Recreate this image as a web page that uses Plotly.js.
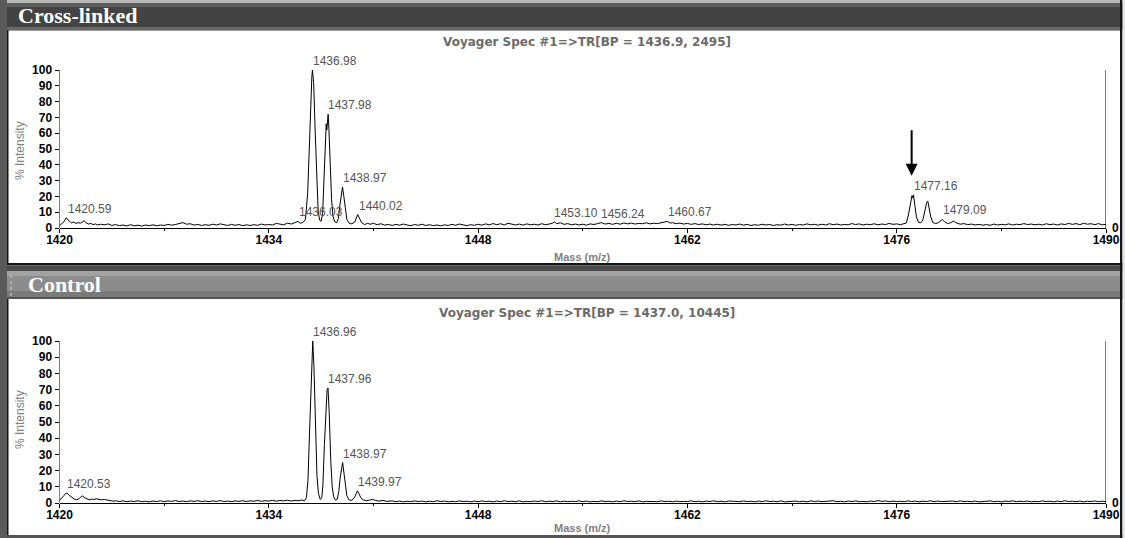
<!DOCTYPE html>
<html>
<head>
<meta charset="utf-8">
<script src="https://cdn.plot.ly/plotly-3.0.1.min.js"></script>
<style>html,body{margin:0;padding:0;background:#fff;}#chart{width:1125px;height:538px;}</style>
</head>
<body>
<div id="chart"></div>
<script>
// ---------- DATA ----------
const panelNames = ["Cross-linked", "Control"];
const panelTitles = ["Voyager Spec #1=>TR[BP = 1436.9, 2495]", "Voyager Spec #1=>TR[BP = 1437.0, 10445]"];
const massTicks = [1420, 1434, 1448, 1462, 1476, 1490];
const intensityTicks = [0, 10, 20, 30, 40, 50, 60, 70, 80, 90, 100];

// Cross-linked spectrum: [m/z, % intensity]
const crossLinkedSpectrum = [
[1420.00,1.4],[1420.15,2.8],[1420.30,4.0],[1420.45,6.5],[1420.55,5.0],[1420.65,4.3],[1420.80,3.2],[1420.95,3.8],[1421.10,2.9],[1421.25,3.4],
[1421.40,3.0],[1421.55,4.3],[1421.65,4.6],[1421.80,3.1],[1421.95,2.5],[1422.10,2.9],[1422.25,2.1],[1422.40,2.6],[1422.55,1.9],[1422.75,2.4],
[1423.00,2.0],[1423.25,2.6],[1423.50,1.6],[1423.75,2.2],[1424.00,1.5],[1424.25,1.9],[1424.50,1.3],[1424.75,2.1],[1425.00,1.4],[1425.25,1.8],
[1425.50,1.2],[1425.75,1.9],[1426.00,1.5],[1426.25,2.0],[1426.50,1.4],[1426.75,1.9],[1427.00,1.6],[1427.25,2.3],[1427.50,1.8],[1427.75,2.2],
[1428.00,2.6],[1428.25,3.4],[1428.50,2.4],[1428.75,2.7],[1429.00,1.8],[1429.25,2.3],[1429.50,1.6],[1429.75,2.1],[1430.00,1.7],[1430.25,2.4],
[1430.50,1.9],[1430.75,2.6],[1431.00,2.1],[1431.25,1.6],[1431.50,2.3],[1431.75,1.7],[1432.00,2.2],[1432.25,1.5],[1432.50,2.0],[1432.75,1.6],
[1433.00,2.1],[1433.25,1.7],[1433.50,2.5],[1433.75,1.9],[1434.00,2.2],[1434.25,1.9],[1434.50,2.9],[1434.75,2.3],[1435.00,2.0],[1435.25,3.1],
[1435.50,2.5],[1435.75,3.4],[1435.95,4.2],[1436.10,3.0],[1436.30,3.6],[1436.45,5.5],[1436.60,22],[1436.70,48],[1436.80,80],[1436.88,96],
[1436.92,100],[1437.00,92],[1437.10,62],[1437.20,30],[1437.30,11],[1437.40,5],[1437.50,4.2],[1437.60,9],[1437.68,32],[1437.76,55],
[1437.84,66],[1437.88,62],[1437.91,68],[1437.94,64],[1437.97,72],[1438.02,63],[1438.10,42],[1438.20,18],[1438.30,7],[1438.42,3.8],
[1438.55,3.4],[1438.65,6],[1438.75,14],[1438.85,22],[1438.93,26],[1439.02,20],[1439.12,11],[1439.22,5.5],[1439.38,3.0],[1439.55,2.6],
[1439.75,3.8],[1439.88,7.0],[1439.95,8.5],[1440.05,6.5],[1440.20,3.5],[1440.40,2.2],[1440.60,2.9],[1440.80,2.4],[1441.00,3.0],[1441.25,2.1],
[1441.50,2.7],[1441.75,1.8],[1442.00,2.3],[1442.25,1.6],[1442.50,2.3],[1442.75,1.8],[1443.00,2.5],[1443.25,1.9],[1443.50,1.5],[1443.75,2.2],
[1444.00,1.7],[1444.25,2.4],[1444.50,1.6],[1444.75,2.1],[1445.00,1.5],[1445.25,1.9],[1445.50,1.4],[1445.75,2.0],[1446.00,1.6],[1446.25,2.3],
[1446.50,1.7],[1446.75,2.5],[1447.00,1.9],[1447.25,1.5],[1447.50,2.1],[1447.75,1.7],[1448.00,2.4],[1448.25,1.8],[1448.50,2.6],[1448.75,2.0],
[1449.00,2.8],[1449.25,2.1],[1449.50,2.7],[1449.75,1.9],[1450.00,3.0],[1450.25,2.2],[1450.50,1.9],[1450.75,2.5],[1451.00,1.8],[1451.25,2.6],
[1451.50,2.0],[1451.75,2.4],[1452.00,1.9],[1452.25,2.7],[1452.50,2.1],[1452.75,2.5],[1453.00,3.1],[1453.10,3.9],[1453.25,2.7],[1453.50,3.3],
[1453.75,2.3],[1454.00,2.8],[1454.25,2.0],[1454.50,2.5],[1454.75,1.9],[1455.00,2.4],[1455.25,1.8],[1455.50,2.6],[1455.75,2.2],[1456.00,2.8],
[1456.24,3.4],[1456.50,2.5],[1456.75,2.9],[1457.00,2.3],[1457.25,3.0],[1457.50,2.4],[1457.75,3.2],[1458.00,2.6],[1458.25,3.1],[1458.50,2.5],
[1458.75,2.9],[1459.00,2.7],[1459.25,3.3],[1459.50,2.6],[1459.75,3.0],[1460.00,2.8],[1460.25,3.2],[1460.50,3.5],[1460.67,4.2],[1460.85,3.1],
[1461.00,3.4],[1461.25,2.7],[1461.50,3.1],[1461.75,2.5],[1462.00,2.9],[1462.25,2.3],[1462.50,2.8],[1462.75,2.2],[1463.00,2.6],[1463.25,2.0],
[1463.50,2.5],[1463.75,1.9],[1464.00,2.4],[1464.25,1.8],[1464.50,2.3],[1464.75,1.7],[1465.00,2.2],[1465.25,1.9],[1465.50,2.5],[1465.75,1.8],
[1466.00,2.3],[1466.25,1.6],[1466.50,2.1],[1466.75,1.7],[1467.00,2.4],[1467.25,1.9],[1467.50,2.2],[1467.75,1.6],[1468.00,2.1],[1468.25,1.8],
[1468.50,2.5],[1468.75,1.9],[1469.00,2.3],[1469.25,1.7],[1469.50,2.2],[1469.75,1.9],[1470.00,2.6],[1470.25,2.0],[1470.50,2.3],[1470.75,1.8],
[1471.00,2.4],[1471.25,1.9],[1471.50,2.7],[1471.75,2.1],[1472.00,2.5],[1472.25,1.9],[1472.50,2.3],[1472.75,2.0],[1473.00,2.8],[1473.25,2.2],
[1473.50,2.6],[1473.75,1.9],[1474.00,2.4],[1474.25,2.1],[1474.50,2.7],[1474.75,2.0],[1475.00,2.5],[1475.25,2.2],[1475.50,2.9],[1475.75,2.3],
[1476.00,2.6],[1476.25,2.1],[1476.50,2.5],[1476.65,3.2],[1476.80,9],[1476.92,17],[1477.02,20.5],[1477.08,19],[1477.12,21],[1477.22,14],
[1477.32,7],[1477.45,3.6],[1477.60,3.2],[1477.75,5],[1477.88,11],[1478.00,16],[1478.08,17],[1478.18,13],[1478.28,7],[1478.42,3.5],
[1478.60,2.8],[1478.80,3.4],[1478.95,4.8],[1479.05,5.4],[1479.20,4.0],[1479.40,2.8],[1479.60,3.3],[1479.80,4.4],[1479.95,3.4],[1480.10,2.9],
[1480.25,2.4],[1480.50,2.8],[1480.75,2.1],[1481.00,2.5],[1481.25,1.9],[1481.50,2.3],[1481.75,1.8],[1482.00,2.2],[1482.25,1.7],[1482.50,2.5],
[1482.75,1.9],[1483.00,2.3],[1483.25,2.0],[1483.50,2.6],[1483.75,1.9],[1484.00,2.4],[1484.25,2.1],[1484.50,2.8],[1484.75,2.2],[1485.00,2.5],
[1485.25,2.0],[1485.50,2.4],[1485.75,1.9],[1486.00,2.7],[1486.25,2.1],[1486.50,2.5],[1486.75,1.9],[1487.00,2.6],[1487.25,2.2],[1487.50,2.9],
[1487.75,2.3],[1488.00,2.8],[1488.25,2.1],[1488.50,3.0],[1488.75,2.4],[1489.00,2.7],[1489.25,2.1],[1489.50,2.8],[1489.75,2.0],[1490.00,2.3]
];

// Control spectrum: [m/z, % intensity]
const controlSpectrum = [
[1420.00,1.6],[1420.15,2.8],[1420.30,4.6],[1420.45,6.2],[1420.55,5.8],[1420.70,4.4],[1420.85,3.2],[1421.00,2.4],[1421.15,2.0],[1421.30,2.6],
[1421.45,4.0],[1421.55,4.3],[1421.70,3.1],[1421.85,2.3],[1422.00,2.0],[1422.15,2.4],[1422.30,2.2],[1422.45,2.6],[1422.60,2.3],[1422.80,2.0],
[1423.00,2.2],[1423.20,1.7],[1423.40,1.3],[1423.60,1.1],[1423.80,1.4],[1424.00,0.9],[1424.25,1.3],[1424.50,0.8],[1424.75,1.2],[1425.00,0.9],
[1425.25,1.4],[1425.50,0.8],[1425.75,1.1],[1426.00,0.7],[1426.25,1.2],[1426.50,0.9],[1426.75,1.4],[1427.00,0.8],[1427.25,1.3],[1427.50,1.0],
[1427.75,1.5],[1428.00,0.9],[1428.25,1.2],[1428.50,0.8],[1428.75,1.3],[1429.00,1.0],[1429.25,1.4],[1429.50,0.9],[1429.75,1.2],[1430.00,0.8],
[1430.25,1.3],[1430.50,1.0],[1430.75,1.5],[1431.00,0.9],[1431.25,1.2],[1431.50,0.8],[1431.75,1.3],[1432.00,1.0],[1432.25,1.4],[1432.50,0.9],
[1432.75,1.3],[1433.00,1.1],[1433.25,1.6],[1433.50,1.0],[1433.75,1.4],[1434.00,1.2],[1434.25,1.6],[1434.50,1.1],[1434.75,1.5],[1435.00,1.3],
[1435.25,1.7],[1435.50,1.2],[1435.75,1.6],[1436.00,1.4],[1436.20,1.8],[1436.40,1.5],[1436.52,3.5],[1436.62,14],[1436.72,42],[1436.82,76],
[1436.90,96],[1436.94,100],[1437.02,84],[1437.12,46],[1437.22,17],[1437.32,6],[1437.44,2.2],[1437.54,3],[1437.62,11],[1437.72,36],
[1437.82,60],[1437.90,70],[1437.96,71],[1438.04,56],[1438.14,27],[1438.24,10],[1438.34,3.8],[1438.46,1.8],[1438.58,2.4],[1438.68,7],
[1438.78,16],[1438.88,24],[1438.94,25],[1439.02,19],[1439.12,10],[1439.22,4.5],[1439.36,2.0],[1439.55,1.6],[1439.72,3.2],[1439.85,6.0],
[1439.93,7.5],[1440.03,5.8],[1440.16,3.2],[1440.32,1.9],[1440.55,1.4],[1440.75,1.8],[1440.95,2.3],[1441.15,1.5],[1441.40,1.2],[1441.65,1.6],
[1441.90,1.0],[1442.25,1.3],[1442.50,0.8],[1442.75,1.2],[1443.00,0.7],[1443.25,1.1],[1443.50,0.8],[1443.75,1.3],[1444.00,0.9],[1444.25,1.2],
[1444.50,0.7],[1444.75,1.1],[1445.00,0.8],[1445.25,1.4],[1445.50,0.9],[1445.75,1.2],[1446.00,0.7],[1446.25,1.0],[1446.50,0.8],[1446.75,1.3],
[1447.00,0.9],[1447.25,1.1],[1447.50,0.7],[1447.75,1.2],[1448.00,0.8],[1448.25,1.3],[1448.50,0.9],[1448.75,1.1],[1449.00,0.7],[1449.25,1.2],
[1449.50,0.8],[1449.75,1.4],[1450.00,0.9],[1450.25,1.1],[1450.50,0.8],[1450.75,1.3],[1451.00,0.7],[1451.25,1.0],[1451.50,0.8],[1451.75,1.2],
[1452.00,0.9],[1452.25,1.4],[1452.50,0.8],[1452.75,1.1],[1453.00,0.9],[1453.25,1.3],[1453.50,0.7],[1453.75,1.2],[1454.00,0.8],[1454.25,1.1],
[1454.50,0.9],[1454.75,1.3],[1455.00,0.8],[1455.25,1.2],[1455.50,0.7],[1455.75,1.0],[1456.00,0.8],[1456.25,1.3],[1456.50,0.9],[1456.75,1.1],
[1457.00,0.7],[1457.25,1.2],[1457.50,0.8],[1457.75,1.4],[1458.00,0.9],[1458.25,1.1],[1458.50,0.8],[1458.75,1.3],[1459.00,0.7],[1459.25,1.0],
[1459.50,0.9],[1459.75,1.2],[1460.00,0.8],[1460.25,1.3],[1460.50,0.9],[1460.75,1.1],[1461.00,0.7],[1461.25,1.2],[1461.50,0.8],[1461.75,1.0],
[1462.00,0.9],[1462.25,1.3],[1462.50,0.8],[1462.75,1.1],[1463.00,0.7],[1463.25,1.2],[1463.50,0.9],[1463.75,1.4],[1464.00,0.8],[1464.25,1.1],
[1464.50,0.7],[1464.75,1.2],[1465.00,0.9],[1465.25,1.0],[1465.50,0.8],[1465.75,1.3],[1466.00,0.9],[1466.25,1.1],[1466.50,0.7],[1466.75,1.2],
[1467.00,0.8],[1467.25,1.4],[1467.50,0.9],[1467.75,1.1],[1468.00,0.8],[1468.25,1.3],[1468.50,0.7],[1468.75,1.0],[1469.00,0.9],[1469.25,1.2],
[1469.50,0.8],[1469.75,1.1],[1470.00,0.7],[1470.25,1.3],[1470.50,0.9],[1470.75,1.2],[1471.00,0.8],[1471.25,1.0],[1471.50,0.9],[1471.75,1.4],
[1472.00,0.8],[1472.25,1.1],[1472.50,0.7],[1472.75,1.2],[1473.00,0.9],[1473.25,1.3],[1473.50,0.8],[1473.75,1.0],[1474.00,0.7],[1474.25,1.2],
[1474.50,0.9],[1474.75,1.5],[1475.00,1.0],[1475.25,1.3],[1475.50,0.8],[1475.75,1.2],[1476.00,0.9],[1476.25,1.1],[1476.50,0.8],[1476.75,1.3],
[1477.00,0.9],[1477.25,1.2],[1477.50,0.7],[1477.75,1.1],[1478.00,0.9],[1478.25,1.4],[1478.50,0.8],[1478.75,1.2],[1479.00,0.9],[1479.25,1.0],
[1479.50,0.7],[1479.75,1.2],[1480.00,0.8],[1480.25,1.3],[1480.50,0.9],[1480.75,1.1],[1481.00,0.8],[1481.25,1.2],[1481.50,0.7],[1481.75,1.0],
[1482.00,0.9],[1482.25,1.3],[1482.50,0.8],[1482.75,1.1],[1483.00,0.7],[1483.25,1.2],[1483.50,0.9],[1483.75,1.4],[1484.00,0.8],[1484.25,1.1],
[1484.50,0.9],[1484.75,1.2],[1485.00,0.7],[1485.25,1.0],[1485.50,0.8],[1485.75,1.3],[1486.00,0.9],[1486.25,1.1],[1486.50,0.7],[1486.75,1.2],
[1487.00,0.8],[1487.25,1.4],[1487.50,0.9],[1487.75,1.1],[1488.00,0.8],[1488.25,1.2],[1488.50,0.7],[1488.75,1.1],[1489.00,0.9],[1489.25,1.3],
[1489.50,0.8],[1489.75,1.1],[1490.00,0.9]
];

// Peak labels
const crossLinkedLabelMass = [1420.59, 1436.03, 1436.98, 1437.98, 1438.97, 1440.02, 1453.10, 1456.24, 1460.67, 1477.16, 1479.09];
const crossLinkedLabelHeight = [6.5, 4.2, 100, 72, 26, 8.5, 3.9, 3.4, 4.2, 21, 5.4];
const controlLabelMass = [1420.53, 1436.96, 1437.96, 1438.97, 1439.97];
const controlLabelHeight = [6.2, 100, 71, 25, 7.5];

// Arrow marking the cross-linked product peak
const arrowMass = 1477.0;
const arrowTipIntensity = 33;

// ---------- LAYOUT ----------
const W = 1125, H = 538;
const px = v => v / W;
const py = v => 1 - v / H;
const FONT = "Liberation Sans, Arial, sans-serif";
const WIDE = "DejaVu Sans, Verdana, sans-serif";
const SERIF = "Liberation Serif, Times New Roman, serif";

// pixel geometry of the two plot areas
const plotX0 = 59.5, plotX1 = 1106;
const panels = [
  {zero: 228, hundred: 70, titleY: 42, massY: 257, intY: 151},
  {zero: 503, hundred: 341, titleY: 313, massY: 528, intY: 420}
];
const yTop = 104;
function yDomain(p) {
  const per = (p.zero - p.hundred) / 100;
  const topPx = p.zero - per * yTop;
  return [py(p.zero), py(topPx)];
}

const shapes = [];
function rect(x0, y0, x1, y1, color) {
  shapes.push({type: 'rect', xref: 'paper', yref: 'paper', x0: px(x0), x1: px(x1), y0: py(y1), y1: py(y0),
    fillcolor: color, line: {width: 0}, layer: 'below'});
}
// top header
rect(0, 0, 1125, 3, '#b8b8b8');
rect(0, 3, 1125, 7, '#5c5c5c');
rect(0, 7, 1125, 27, '#434343');
rect(0, 27, 1125, 30, '#6a6a6a');
rect(8, 30, 1120, 31, '#999999');
// bottom border of top box and separator
rect(0, 263, 1125, 265.5, '#151515');
rect(0, 265.5, 1125, 271, '#4a4a4a');
// control header
rect(0, 271, 1125, 276, '#a2a2a2');
rect(0, 276, 1125, 291, '#8c8c8c');
rect(0, 291, 1125, 297, '#7a7a7a');
rect(0, 297, 1125, 299, '#555555');
// bottom edge
rect(0, 535, 1125, 538, '#555555');
// left strip
rect(0, 0, 7, 538, '#5a5a5a');
rect(7, 30, 8.5, 263, '#151515');
rect(7, 299, 8.5, 535, '#151515');
// right border
rect(1120, 0, 1122.5, 538, '#151515');
rect(1122.5, 0, 1125, 538, '#e6e6e6');
// dotted line in control header
shapes.push({type: 'line', xref: 'paper', yref: 'paper', x0: px(11), x1: px(11), y0: py(296), y1: py(273),
  line: {color: '#d0d0d0', width: 1, dash: 'dot'}, layer: 'below'});

const annotations = [];
const traces = [];
const spectra = [crossLinkedSpectrum, controlSpectrum];
const labelMasses = [crossLinkedLabelMass, controlLabelMass];
const labelHeights = [crossLinkedLabelHeight, controlLabelHeight];
const headerPos = [{x: 16, y: 15}, {x: 26, y: 284}];

const layout = {
  width: W, height: H,
  margin: {l: 0, r: 0, t: 0, b: 0},
  paper_bgcolor: '#ffffff',
  plot_bgcolor: 'rgba(0,0,0,0)',
  showlegend: false,
  font: {family: FONT},
  shapes: shapes,
  annotations: annotations
};

panels.forEach((p, i) => {
  const xa = i === 0 ? 'x' : 'x2';
  const ya = i === 0 ? 'y' : 'y2';
  const xKey = i === 0 ? 'xaxis' : 'xaxis2';
  const yKey = i === 0 ? 'yaxis' : 'yaxis2';
  layout[xKey] = {
    domain: [px(plotX0), px(plotX1)], range: [massTicks[0], massTicks[massTicks.length - 1]],
    anchor: ya, tickmode: 'array', tickvals: massTicks, ticktext: massTicks.map(String),
    ticks: 'outside', ticklen: 4, tickwidth: 1, tickcolor: '#000', ticklabelstandoff: -3,
    showline: true, linecolor: '#000', linewidth: 1, showgrid: false, zeroline: false,
    tickfont: {family: FONT, size: 12, color: '#000', weight: 'bold'},
    minor: {tickvals: [1427, 1441, 1455, 1469, 1483], ticks: 'outside', ticklen: 2, tickcolor: '#000', showgrid: false},
    fixedrange: true
  };
  layout[yKey] = {
    domain: yDomain(p), range: [0, yTop], anchor: xa,
    tickmode: 'array', tickvals: intensityTicks, ticktext: intensityTicks.map(String),
    ticks: 'outside', ticklen: 4, tickwidth: 1, tickcolor: '#000',
    showline: false, showgrid: false, zeroline: false,
    tickfont: {family: FONT, size: 12, color: '#000', weight: 'bold'},
    fixedrange: true
  };

  const sp = spectra[i];
  traces.push({
    type: 'scatter', mode: 'lines', xaxis: xa, yaxis: ya,
    x: sp.map(d => d[0]), y: sp.map(d => d[1]),
    line: {color: '#000', width: 1}, hoverinfo: 'skip'
  });

  // axis lines (left and right), top/bottom ticks on the right
  const lo = massTicks[0], hi = massTicks[massTicks.length - 1];
  const stub = 0.27;
  shapes.push({type: 'line', xref: xa, yref: ya, x0: lo, x1: lo, y0: 0, y1: 100, line: {color: '#000', width: 1}});
  shapes.push({type: 'line', xref: xa, yref: ya, x0: hi, x1: hi, y0: 0, y1: 100, line: {color: '#000', width: 1}});
  shapes.push({type: 'line', xref: xa, yref: ya, x0: hi, x1: hi + stub, y0: 100, y1: 100, line: {color: '#000', width: 1}});
  shapes.push({type: 'line', xref: xa, yref: ya, x0: hi, x1: hi + stub, y0: 0, y1: 0, line: {color: '#000', width: 1}});
  annotations.push({xref: xa, yref: ya, x: hi, y: 0, text: '0', showarrow: false, xanchor: 'left', yanchor: 'middle',
    xshift: 4, font: {family: FONT, size: 12, color: '#000', weight: 'bold'}});

  // peak labels
  labelMasses[i].forEach((m, k) => {
    annotations.push({xref: xa, yref: ya, x: m, y: labelHeights[i][k], text: m.toFixed(2), showarrow: false,
      xanchor: 'left', yanchor: 'bottom', xshift: -2, yshift: 0,
      font: {family: FONT, size: 12, color: '#555555'}});
  });

  // panel header text
  annotations.push({xref: 'paper', yref: 'paper', x: px(headerPos[i].x), y: py(headerPos[i].y), text: panelNames[i],
    showarrow: false, xanchor: 'left', yanchor: 'middle',
    font: {family: SERIF, size: 22, color: '#ffffff', weight: 'bold'}});
  // spectrum title
  annotations.push({xref: 'paper', yref: 'paper', x: px(586.5), y: py(p.titleY), text: panelTitles[i],
    showarrow: false, xanchor: 'center', yanchor: 'middle',
    font: {family: WIDE, size: 12, color: '#6a6a6a', weight: 'bold'}});
  // axis titles
  annotations.push({xref: 'paper', yref: 'paper', x: px(582), y: py(p.massY), text: 'Mass (m/z)',
    showarrow: false, xanchor: 'center', yanchor: 'middle',
    font: {family: FONT, size: 11, color: '#808080', weight: 'bold'}});
  annotations.push({xref: 'paper', yref: 'paper', x: px(20), y: py(p.intY), text: '% Intensity', textangle: -90,
    showarrow: false, xanchor: 'center', yanchor: 'middle',
    font: {family: FONT, size: 12, color: '#808080'}});
});

// arrow on the cross-linked spectrum
annotations.push({xref: 'x', yref: 'y', x: arrowMass, y: arrowTipIntensity, text: '', showarrow: true,
  ax: 0, ay: -47, arrowhead: 2, arrowsize: 1.2, arrowwidth: 2, arrowcolor: '#000'});

Plotly.newPlot('chart', traces, layout, {staticPlot: true, displayModeBar: false});
</script>
</body>
</html>
